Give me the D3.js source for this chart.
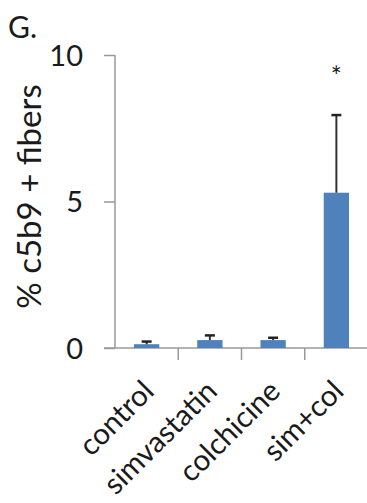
<!DOCTYPE html>
<html>
<head>
<meta charset="utf-8">
<script src="https://cdn.jsdelivr.net/npm/d3@7"></script>
<style>
  body { margin: 0; background: #fff; }
  text { font-family: Lato, "Open Sans", sans-serif; fill: #1a1a1a; }
</style>
</head>
<body>
<script>
var categories = ["control", "simvastatin", "colchicine", "sim+col"];
var means = [0.13, 0.27, 0.27, 5.3];
var errors = [0.09, 0.16, 0.08, 2.65];
var yTicks = [0, 5, 10];
var starred = ["sim+col"];

var width = 367, height = 503;
var margin = {left: 115, right: -1, top: 55, bottom: 155};

var svg = d3.select("body").append("svg").attr("width", width).attr("height", height);

var x = d3.scaleBand().domain(categories)
    .range([margin.left, width - margin.right]).paddingInner(0.6).paddingOuter(0.3);
var xEdge = d3.scaleBand().domain(categories).range([margin.left, width - margin.right]);
var y = d3.scaleLinear().domain([0, 10]).range([height - margin.bottom, margin.top]);

// y axis
var yAxis = svg.append("g").attr("transform", "translate(" + margin.left + ",0)")
    .call(d3.axisLeft(y).tickValues(yTicks).tickSize(11).tickPadding(21));
yAxis.select(".domain").attr("stroke", "#999").attr("stroke-width", 1.5).attr("d", "M0," + y(10) + "V" + y(0));
yAxis.selectAll(".tick line").attr("stroke", "#999").attr("stroke-width", 1.5);
yAxis.selectAll(".tick text").attr("font-size", 29).attr("font-family", "Lato, sans-serif").attr("fill", "#1a1a1a").attr("dy", "0.36em");

// x axis
var xAxisG = svg.append("g").attr("transform", "translate(0," + y(0) + ")");
xAxisG.append("line").attr("x1", margin.left - 11).attr("x2", width + 2)
    .attr("stroke", "#999").attr("stroke-width", 1.5);
xAxisG.selectAll(".edge").data(categories.slice(1)).enter().append("line")
    .attr("x1", function(d) { return xEdge(d); }).attr("x2", function(d) { return xEdge(d); })
    .attr("y1", 0).attr("y2", 12).attr("stroke", "#999").attr("stroke-width", 1.5);

// bars
svg.selectAll("rect.bar").data(categories).enter().append("rect")
    .attr("class", "bar")
    .attr("x", function(d) { return x(d); })
    .attr("width", x.bandwidth())
    .attr("y", function(d, i) { return y(means[i]); })
    .attr("height", function(d, i) { return y(0) - y(means[i]); })
    .attr("fill", "#4f81bd");

// error bars (upper only)
var eb = svg.selectAll("g.err").data(categories).enter().append("g").attr("class", "err");
eb.append("line")
    .attr("x1", function(d) { return x(d) + x.bandwidth() / 2; })
    .attr("x2", function(d) { return x(d) + x.bandwidth() / 2; })
    .attr("y1", function(d, i) { return y(means[i]); })
    .attr("y2", function(d, i) { return y(means[i] + errors[i]); })
    .attr("stroke", "#333").attr("stroke-width", 2);
eb.append("line")
    .attr("x1", function(d) { return x(d) + x.bandwidth() / 2 - 5; })
    .attr("x2", function(d) { return x(d) + x.bandwidth() / 2 + 5; })
    .attr("y1", function(d, i) { return y(means[i] + errors[i]); })
    .attr("y2", function(d, i) { return y(means[i] + errors[i]); })
    .attr("stroke", "#222").attr("stroke-width", 2.5);

// asterisk
svg.selectAll("text.star").data(starred).enter().append("text")
    .attr("class", "star")
    .attr("x", function(d) { return x(d) + x.bandwidth() / 2; })
    .attr("y", 86)
    .attr("text-anchor", "middle").attr("font-size", 26)
    .text("*");

// category labels
svg.selectAll("text.cat").data(categories).enter().append("text")
    .attr("class", "cat")
    .attr("text-anchor", "end")
    .attr("font-size", 29.5)
    .attr("transform", function(d) {
        return "translate(" + (x(d) + x.bandwidth() / 2 + 9) + "," + (y(0) + 45) + ") rotate(-45)";
    })
    .text(function(d) { return d; });

// y title
svg.append("text")
    .attr("transform", "translate(41," + ((y(0) + y(10)) / 2 - 5) + ") rotate(-90)")
    .attr("text-anchor", "middle").attr("font-size", 33)
    .text("% c5b9 + fibers");

// panel letter
svg.append("text").attr("x", 8).attr("y", 38).attr("font-size", 30).text("G.");
</script>
</body>
</html>
